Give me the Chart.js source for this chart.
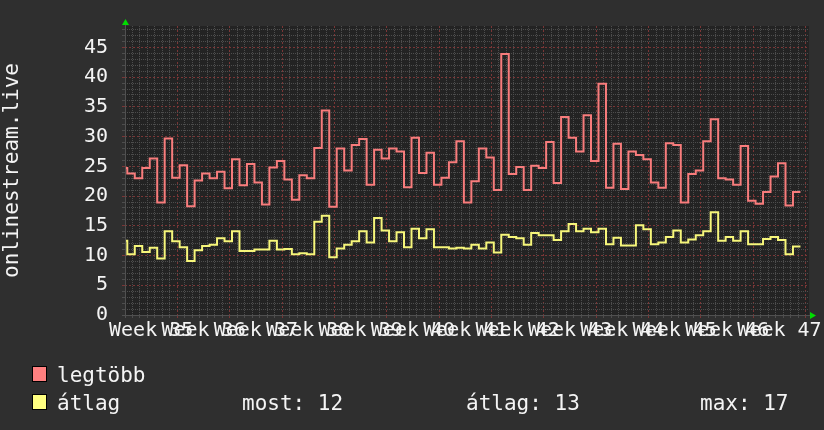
<!DOCTYPE html>
<html>
<head>
<meta charset="utf-8">
<script src="https://cdn.jsdelivr.net/npm/chart.js@4.4.0/dist/chart.umd.min.js"></script>
<style>
  body { margin: 0; background: #2f2f2f; }
  #wrap { position: relative; width: 824px; height: 430px; font-family: "DejaVu Sans Mono", monospace; color: #f4f4f4; }
  canvas { position: absolute; left: 0; top: 0; }
  .key { position: absolute; left: 32px; width: 13px; height: 14px; border: 1px solid #000; }
  .lbl { position: absolute; font-size: 21px; line-height: 24px; white-space: pre; }
</style>
</head>
<body>
<div id="wrap">
  <canvas id="chart" width="824" height="430"></canvas>
  <div class="key" style="top:366px;background:#ff8080"></div>
  <div class="lbl" style="left:57px;top:363px">legtöbb</div>
  <div class="key" style="top:394px;background:#ffff80"></div>
  <div class="lbl" style="left:57px;top:391px">átlag</div>
  <div class="lbl" style="left:242px;top:391px">most: 12</div>
  <div class="lbl" style="left:466px;top:391px">átlag: 13</div>
  <div class="lbl" style="left:700px;top:391px">max: 17</div>
</div>
<script>
// DATA
const weeks = [35, 36, 37, 38, 39, 40, 41, 42, 43, 44, 45, 46, 47];
const yTicks = [0, 5, 10, 15, 20, 25, 30, 35, 40, 45];

// daily values (legtöbb = max, átlag = average)
const maxValues = [
  24.7, 23.8, 23.0, 24.7, 26.3, 18.9, 29.7, 23.1, 25.2, 18.3, 22.6, 23.8, 23.0, 24.1, 21.3, 26.2,
  21.8, 25.4, 22.3, 18.6, 24.8, 25.9, 22.8, 19.4, 23.5, 23.0, 28.1, 34.4, 18.2, 28.0, 24.3,
  28.6, 29.6, 21.9, 27.8, 26.3, 28.0, 27.5, 21.5, 29.8, 23.9, 27.3, 21.9, 23.1, 25.7, 29.2,
  18.9, 22.5, 28.0, 26.5, 21.0, 43.9, 23.7, 24.9, 21.0, 25.1, 24.7, 29.1, 22.2, 33.3, 29.8,
  27.5, 33.6, 25.9, 38.9, 21.4, 28.8, 21.2, 27.5, 26.9, 26.2, 22.3, 21.4, 28.9, 28.6, 18.9,
  23.7, 24.3, 29.2, 32.9, 23.0, 22.8, 21.9, 28.4, 19.2, 18.7, 20.7, 23.3, 25.5, 18.4, 20.7
];
const avgValues = [
  12.5, 10.2, 11.6, 10.6, 11.3, 9.5, 14.1, 12.4, 11.4, 9.1, 10.9, 11.6, 11.8, 12.9, 12.4, 14.1,
  10.75, 10.75, 11.0, 11.0, 12.5, 11.0, 11.1, 10.2, 10.4, 10.2, 15.7, 16.7, 9.7, 11.2, 11.8,
  12.4, 14.1, 12.2, 16.3, 14.2, 12.4, 13.9, 11.4, 14.5, 12.9, 14.4, 11.4, 11.4, 11.2, 11.3,
  11.2, 11.8, 11.2, 12.2, 10.5, 13.5, 13.1, 12.9, 11.8, 13.8, 13.4, 13.4, 12.6, 14.1, 15.3,
  14.1, 14.5, 13.9, 14.5, 11.9, 13.0, 11.7, 11.7, 15.1, 14.4, 11.9, 12.2, 13.1, 14.2, 12.2,
  12.7, 13.4, 14.1, 17.3, 12.5, 13.1, 12.5, 14.1, 11.9, 11.9, 12.8, 13.1, 12.6, 10.2, 11.5
];

// x axis runs in days from monday of week 35
const X_MAX = 91.45;
const FIRST_DAY = -0.694;
const Y_MAX = 48.6;

const MINOR = '#4d4d4d';
const MAJOR = '#7a3636';
const FONT = '"DejaVu Sans Mono", monospace';

function toSteps(values){
  const pts = values.map((v, i) => ({x: FIRST_DAY + i, y: v}));
  pts.push({x: FIRST_DAY + values.length, y: values[values.length - 1]});
  return pts;
}

function range(n){
  return Array.from({length: n}, (_, i) => ({value: i}));
}

// PLOT BACKGROUND + ARROWS
const rrdLook = {
  id: 'rrdLook',
  beforeDraw(chart){
    const {ctx, chartArea: a} = chart;
    ctx.save();
    ctx.fillStyle = '#232323';
    ctx.fillRect(a.left, a.top, a.right - a.left, a.bottom - a.top);
    ctx.restore();
  },
  afterDraw(chart){
    const {ctx, chartArea: a} = chart;
    ctx.save();
    ctx.strokeStyle = '#505050';
    ctx.lineWidth = 1;
    ctx.beginPath();
    ctx.moveTo(a.left + 0.5, a.top - 2);
    ctx.lineTo(a.left + 0.5, a.bottom + 3);
    ctx.moveTo(a.left - 3, a.bottom + 0.5);
    ctx.lineTo(a.right + 2, a.bottom + 0.5);
    ctx.stroke();
    ctx.fillStyle = '#00dd00';
    ctx.beginPath();
    ctx.moveTo(a.left - 3, a.top - 1);
    ctx.lineTo(a.left + 4, a.top - 1);
    ctx.lineTo(a.left + 0.5, a.top - 7);
    ctx.closePath();
    ctx.fill();
    ctx.beginPath();
    ctx.moveTo(a.right + 1, a.bottom - 3);
    ctx.lineTo(a.right + 1, a.bottom + 4);
    ctx.lineTo(a.right + 7, a.bottom + 0.5);
    ctx.closePath();
    ctx.fill();
    ctx.restore();
  }
};

const ctx = document.getElementById('chart').getContext('2d');
new Chart(ctx, {
  type: 'line',
  data: {
    datasets: [
      {label: 'legtöbb', data: toSteps(maxValues), borderColor: '#f87c7c', borderWidth: 2, stepped: true, pointRadius: 0, clip: 0},
      {label: 'átlag', data: toSteps(avgValues), borderColor: '#f6f67a', borderWidth: 2, stepped: true, pointRadius: 0, clip: 0}
    ]
  },
  options: {
    responsive: false,
    animation: false,
    events: [],
    layout: {padding: {left: 0, top: 14, right: 15, bottom: 85}},
    plugins: {legend: {display: false}, tooltip: {enabled: false}},
    scales: {
      x: {
        type: 'linear', min: 0, max: X_MAX,
        afterBuildTicks: s => { s.ticks = range(92); },
        afterFit: s => { s.height = 3; },
        ticks: {display: false},
        grid: {
          color: c => c.tick && c.tick.value % 7 === 0 ? MAJOR : MINOR,
          tickLength: 3, lineWidth: 1
        },
        border: {display: false, dash: c => c.tick && c.tick.value % 7 === 0 ? [2, 2] : [1, 1]}
      },
      xl: {
        type: 'linear', position: 'bottom', min: 0, max: X_MAX,
        afterBuildTicks: s => { s.ticks = weeks.map((w, i) => ({value: 3.5 + 7 * i})); },
        afterFit: s => { s.height = 27; },
        grid: {display: false, drawTicks: false},
        border: {display: false},
        ticks: {
          autoSkip: false, maxRotation: 0, minRotation: 0, padding: 1,
          color: '#f4f4f4', font: {family: FONT, size: 20},
          callback: (v, i) => 'Week ' + weeks[i]
        }
      },
      y: {
        type: 'linear', min: 0, max: Y_MAX,
        afterBuildTicks: s => { s.ticks = range(49); },
        afterFit: s => { s.width = 125; },
        grid: {
          color: c => c.tick && c.tick.value % 5 === 0 ? MAJOR : MINOR,
          tickLength: 3, lineWidth: 1
        },
        border: {display: false, dash: c => c.tick && c.tick.value % 5 === 0 ? [2, 2] : [1, 1]},
        ticks: {
          autoSkip: false, padding: 14,
          color: '#f4f4f4', font: {family: FONT, size: 20},
          callback: v => yTicks.includes(v) ? String(v) : ''
        },
        title: {
          display: true, text: 'onlinestream.live', color: '#f4f4f4',
          font: {family: FONT, size: 21}, padding: {top: 0, bottom: 0}
        }
      }
    }
  },
  plugins: [rrdLook]
});
</script>
</body>
</html>
